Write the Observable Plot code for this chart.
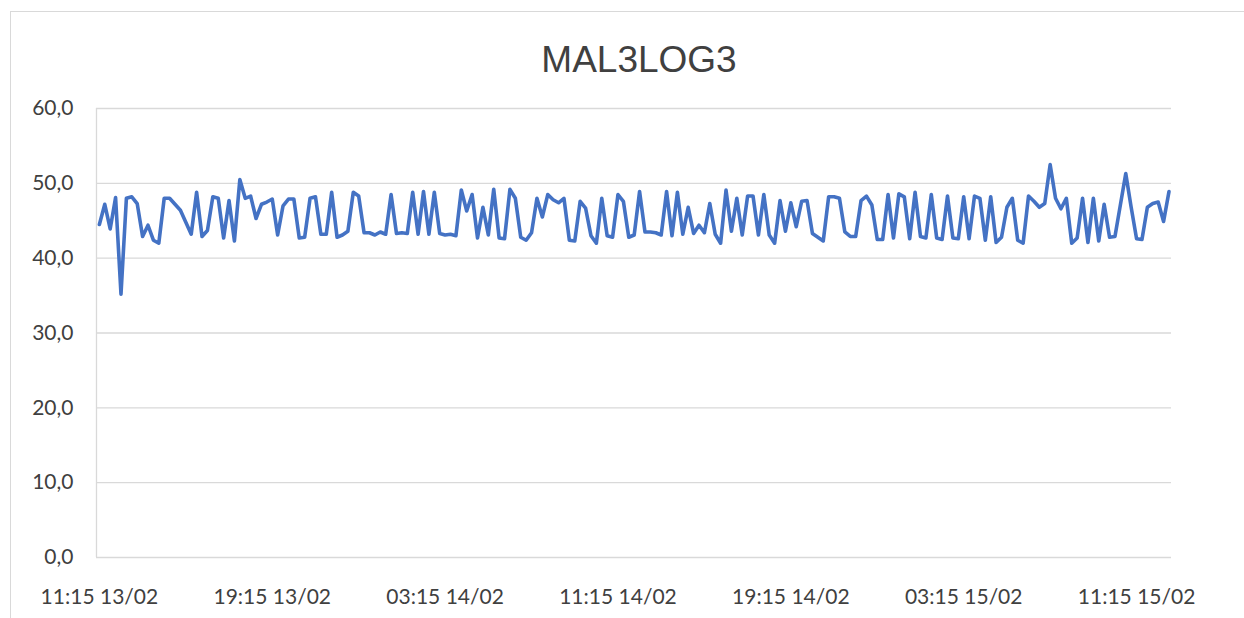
<!DOCTYPE html>
<html>
<head>
<meta charset="utf-8">
<script src="https://cdn.jsdelivr.net/npm/d3@7"></script>
<script src="https://cdn.jsdelivr.net/npm/@observablehq/plot@0.6"></script>
<style>
  body { margin: 0; background: #fff; }
  #wrap { position: relative; width: 1244px; height: 618px; overflow: hidden; background: #fff; }
  #border { position: absolute; left: 10px; top: 11px; width: 1400px; height: 800px;
            border-left: 1px solid #d9d9d9; border-top: 1px solid #d9d9d9; }
  #title { position: absolute; left: 0; top: 41px; width: 1278px; text-align: center;
           font-family: "Liberation Sans", Arial, sans-serif; font-size: 37px; line-height: 37px; color: #404040; }
  #chart { position: absolute; left: 0; top: 90px; }
</style>
</head>
<body>
<div id="wrap">
  <div id="border"></div>
  <div id="title">MAL3LOG3</div>
  <div id="chart"></div>
</div>
<script>
// Readings every 15 minutes starting 11:15 13/02
const startTime = "2024-02-13T11:15:00Z";
const stepMinutes = 15;
const values = [
  44.5, 47.2, 43.9, 48.1, 35.2, 48.0, 48.2, 47.3, 42.9, 44.4,
  42.4, 42.0, 48.0, 48.0, 47.2, 46.4, 44.8, 43.2, 48.8, 42.9,
  43.7, 48.2, 48.0, 42.7, 47.7, 42.3, 50.5, 48.0, 48.3, 45.3,
  47.2, 47.5, 47.9, 43.1, 47.0, 47.9, 47.9, 42.7, 42.8, 48.0,
  48.2, 43.2, 43.2, 48.8, 42.8, 43.1, 43.6, 48.8, 48.3, 43.4,
  43.4, 43.1, 43.5, 43.2, 48.5, 43.3, 43.4, 43.3, 48.8, 43.2,
  48.9, 43.2, 48.8, 43.3, 43.1, 43.2, 43.0, 49.1, 46.3, 48.5,
  42.7, 46.8, 43.1, 49.2, 42.7, 42.6, 49.2, 48.0, 42.8, 42.4,
  43.4, 48.0, 45.5, 48.5, 47.8, 47.4, 48.0, 42.4, 42.3, 47.6,
  46.7, 43.0, 42.0, 48.0, 43.0, 42.8, 48.5, 47.6, 42.8, 43.1,
  48.9, 43.5, 43.5, 43.4, 43.1, 48.9, 43.0, 48.8, 43.2, 46.8,
  43.3, 44.4, 43.4, 47.3, 43.2, 42.0, 49.1, 43.6, 48.0, 43.1,
  48.3, 48.3, 43.1, 48.5, 43.1, 42.0, 47.7, 43.6, 47.4, 44.2,
  47.6, 47.7, 43.3, 42.8, 42.3, 48.2, 48.2, 48.0, 43.5, 42.9,
  42.9, 47.7, 48.3, 47.1, 42.5, 42.5, 48.5, 42.7, 48.6, 48.2,
  42.6, 48.8, 42.9, 42.7, 48.5, 42.7, 42.5, 48.3, 42.7, 42.6,
  48.2, 42.6, 48.3, 48.0, 42.4, 48.2, 42.1, 42.8, 46.8, 48.0,
  42.4, 42.0, 48.3, 47.6, 46.8, 47.3, 52.5, 48.0, 46.6, 48.0,
  42.0, 42.7, 48.0, 42.1, 48.0, 42.3, 47.2, 42.8, 42.9, 47.1,
  51.3, 46.8, 42.6, 42.5, 46.8, 47.3, 47.5, 44.9, 48.9
];
const xTickLabels = ["11:15 13/02", "19:15 13/02", "03:15 14/02", "11:15 14/02", "19:15 14/02", "03:15 15/02", "11:15 15/02"];
const yTicks = [0, 10, 20, 30, 40, 50, 60];

const t0 = new Date(startTime);
const data = values.map((v, i) => ({ time: d3.utcMinute.offset(t0, i * stepMinutes), value: v }));
const tickDates = xTickLabels.map((_, k) => d3.utcHour.offset(t0, k * 8));
const labelOf = new Map(tickDates.map((d, k) => [+d, xTickLabels[k]]));
const xDomain = [d3.utcMinute.offset(t0, -stepMinutes / 2),
                 d3.utcMinute.offset(data[data.length - 1].time, stepMinutes / 2)];

const chart = Plot.plot({
  width: 1244,
  height: 528,
  marginTop: 18,
  marginBottom: 61,
  marginLeft: 96,
  marginRight: 73,
  style: { fontFamily: "Lato, 'Open Sans', sans-serif", fontSize: "21px", color: "#404040", background: "transparent" },
  x: { type: "utc", domain: xDomain },
  y: { domain: [0, 60] },
  marks: [
    Plot.gridY(yTicks, { stroke: "#d9d9d9", strokeOpacity: 1, strokeWidth: 1.3 }),
    Plot.ruleX([xDomain[0]], { stroke: "#d9d9d9", strokeWidth: 1.3 }),
    Plot.axisY({ ticks: yTicks, tickSize: 0, tickPadding: 23, label: null,
                 tickFormat: d => d.toFixed(1).replace(".", ","), fontSize: 21 }),
    Plot.axisX({ ticks: tickDates, tickSize: 0, tickPadding: 32, label: null,
                 tickFormat: d => labelOf.get(+d), fontSize: 21 }),
    Plot.line(data, { x: "time", y: "value", stroke: "#4472C4", strokeWidth: 3.6,
                      strokeLinejoin: "round", strokeLinecap: "round", curve: "linear" })
  ]
});
document.getElementById("chart").appendChild(chart);
</script>
</body>
</html>
